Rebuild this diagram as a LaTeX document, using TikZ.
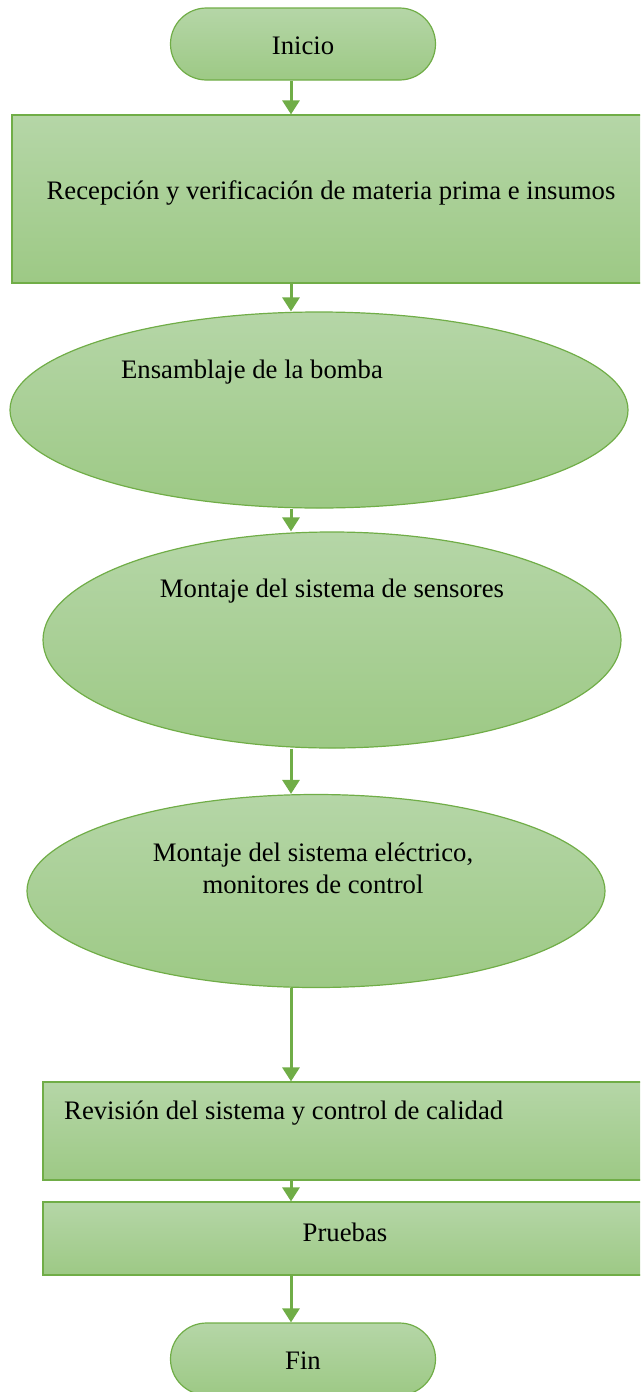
\documentclass[tikz,border=0pt]{standalone}
\usepackage{fontspec}
\setmainfont{Liberation Serif}
\usetikzlibrary{shapes.misc,shapes.geometric,arrows.meta}
\definecolor{gtop}{HTML}{B5D6A7}
\definecolor{gbot}{HTML}{9DC985}
\definecolor{gline}{HTML}{70AD47}
\tikzset{
  shade/.style={draw=gline, line width=1.2pt, top color=gtop, bottom color=gbot, inner sep=0pt},
  term/.style={shade, rounded rectangle, minimum width=265pt, minimum height=72pt},
  procbox/.style={shade, rectangle},
  oval/.style={shade, ellipse},
  lbl/.style={font=\fontsize{26.7}{32}\selectfont, text=black, inner sep=0pt, align=center},
  arr/.style={draw=gline, line width=3pt, -{Triangle[width=17pt,length=14pt]}}
}
\begin{document}
\begin{tikzpicture}[x=1pt,y=1pt]
  \useasboundingbox (0,0) rectangle (640,-1392);
  \clip (0,0) rectangle (640,-1392);

  % shapes
  \node[term] (start) at (303,-44) {};
  \node[procbox, minimum width=650pt, minimum height=168pt] (r1) at (337,-199) {};
  \node[oval, minimum width=618pt, minimum height=196pt] (e1) at (319,-410) {};
  \node[oval, minimum width=578pt, minimum height=216pt] (e2) at (332,-640) {};
  \node[oval, minimum width=578pt, minimum height=193pt] (e3) at (316,-891) {};
  \node[procbox, minimum width=620pt, minimum height=98pt] (r2) at (353,-1131) {};
  \node[procbox, minimum width=620pt, minimum height=73pt] (r3) at (353,-1238.5) {};
  \node[term] (stop) at (303,-1359) {};

  % labels
  \node[lbl] (t0) at (303,-46) {Inicio};
  \node[lbl] (t1) at (331,-193) {Recepción y verificación de materia prima e insumos};
  \node[lbl] (t2) at (252,-372) {Ensamblaje de la bomba};
  \node[lbl] (t3) at (332,-591) {Montaje del sistema de sensores};
  \node[lbl] (t4) at (313,-868) {Montaje del sistema eléctrico,\\ monitores de control};
  \node[lbl, anchor=west] (t5) at (64,-1113) {Revisión del sistema y control de calidad};
  \node[lbl] (t6) at (345,-1232) {Pruebas};
  \node[lbl] (t7) at (303,-1361) {Fin};

  % connectors
  \coordinate (ax) at (291,0);
  \draw[arr] (start.south -| ax) -- (r1.north -| ax);
  \draw[arr] (r1.south -| ax) -- (e1.north -| ax);
  \draw[arr] (e1.south -| ax) -- (e2.north -| ax);
  \draw[arr] (e2.south -| ax) -- (e3.north -| ax);
  \draw[arr] (e3.south -| ax) -- (r2.north -| ax);
  \draw[arr] (r2.south -| ax) -- (r3.north -| ax);
  \draw[arr] (r3.south -| ax) -- (stop.north -| ax);
\end{tikzpicture}
\end{document}
